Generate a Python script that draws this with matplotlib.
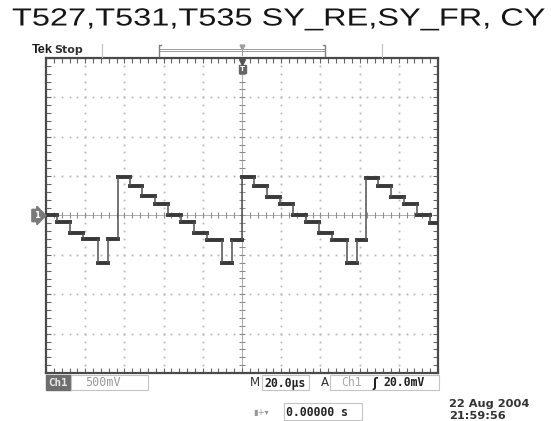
import matplotlib
matplotlib.use('Agg')
import matplotlib.pyplot as plt
import numpy as np
from matplotlib.ticker import MultipleLocator
from matplotlib.patches import Rectangle
from matplotlib.patheffects import AbstractPathEffect
from matplotlib.transforms import Affine2D

# ---------------- data ----------------
title = "T527,T531,T535 SY_RE,SY_FR, CY"

# step edges of the trace (microseconds, trigger at 0) and the level of each step (volts)
edges_us = [-100, -94.2, -87.7, -81.0, -73.3, -68.2,
            -63.1, -57.1, -50.9, -44.4, -37.8, -31.1, -24.5, -18.0, -10.1, -5.3,
            0.0, 6.1, 12.6, 19.4, 26.2, 32.7, 39.3, 45.8, 53.4, 58.5,
            63.5, 69.5, 76.0, 82.8, 89.1, 95.9, 100]
levels_v = [0.0, -0.085, -0.22, -0.30, -0.60, -0.30,
            0.485, 0.37, 0.245, 0.145, 0.005, -0.085, -0.225, -0.31, -0.605, -0.31,
            0.485, 0.375, 0.24, 0.145, 0.0, -0.085, -0.22, -0.31, -0.605, -0.31,
            0.475, 0.37, 0.23, 0.14, 0.0, -0.09]

time_per_div_us = 20.0
volts_per_div = 0.5
n_xdiv, n_ydiv = 10, 8

ch_label = "Ch1"
ch_scale = "500mV"
timebase = "20.0µs"
trig_src = "Ch1"
trig_level = "20.0mV"
hpos = "0.00000 s"
date_str = "22 Aug 2004"
time_str = "21:59:56"


class HStretch(AbstractPathEffect):
    """Stretch text horizontally from its left origin."""
    def __init__(self, sx):
        super().__init__()
        self.sx = sx

    def draw_path(self, renderer, gc, tpath, affine, rgbFace=None):
        renderer.draw_path(gc, tpath, Affine2D().scale(self.sx, 1.0) + affine, rgbFace)


W, H = 551, 421
fig = plt.figure(figsize=(W / 100, H / 100), dpi=100)
fig.patch.set_facecolor('white')

# ---------------- scope screen ----------------
L, R, T, B = 46, 438, 58, 373
ax = fig.add_axes([L / W, (H - B) / H, (R - L) / W, (B - T) / H])
xmax = n_xdiv / 2 * time_per_div_us
ymax = n_ydiv / 2 * volts_per_div
ax.set_xlim(-xmax, xmax)
ax.set_ylim(-ymax, ymax)
ax.set_facecolor('white')

minor_x = np.arange(-xmax, xmax + 1e-9, time_per_div_us / 5)
minor_y = np.arange(-ymax, ymax + 1e-9, volts_per_div / 5)
major_x = np.arange(-xmax + time_per_div_us, xmax - 1e-9, time_per_div_us)
major_y = np.arange(-ymax + volts_per_div, ymax - 1e-9, volts_per_div)

dot_c = '#b8b8b8'
for xv in major_x:
    if abs(xv) < 1e-9:
        continue
    ax.plot(np.full_like(minor_y, xv), minor_y, ls='none', marker='s', ms=1.3,
            color=dot_c, mec='none', zorder=1)
for yv in major_y:
    if abs(yv) < 1e-9:
        continue
    ax.plot(minor_x, np.full_like(minor_x, yv), ls='none', marker='s', ms=1.3,
            color=dot_c, mec='none', zorder=1)

# center cross with graduations
ax.axhline(0, color='#b0b0b0', lw=0.7, zorder=1)
ax.axvline(0, color='#b0b0b0', lw=0.7, zorder=1)
ax.plot(minor_x, np.zeros_like(minor_x), ls='none', marker='|', ms=5, mew=0.8,
        color='#8c8c8c', zorder=1)
ax.plot(np.zeros_like(minor_y), minor_y, ls='none', marker='_', ms=5, mew=0.8,
        color='#8c8c8c', zorder=1)

# border graduations
ax.xaxis.set_major_locator(MultipleLocator(time_per_div_us))
ax.xaxis.set_minor_locator(MultipleLocator(time_per_div_us / 5))
ax.yaxis.set_major_locator(MultipleLocator(volts_per_div))
ax.yaxis.set_minor_locator(MultipleLocator(volts_per_div / 5))
ax.tick_params(which='both', direction='in', top=True, right=True, bottom=True, left=True,
               labelbottom=False, labelleft=False, length=3.5, width=0.8, color='#666')
for s in ax.spines.values():
    s.set_color('#4a4a4a')
    s.set_linewidth(1.6)

# trace
ax.hlines(levels_v, edges_us[:-1], edges_us[1:], color='#383838', lw=2.8,
          capstyle='projecting', zorder=3)
ax.vlines(edges_us[1:-1], levels_v[:-1], levels_v[1:], color='#505050', lw=1.1, zorder=3)

# ---------------- overlay (pixel coordinates) ----------------
ov = fig.add_axes([0, 0, 1, 1])
ov.set_xlim(0, W)
ov.set_ylim(H, 0)
ov.axis('off')

t = ov.text(12, 25.5, title, fontsize=17.8, family='Liberation Sans', ha='left',
            va='baseline', color='#151515')
fig.canvas.draw()
w = t.get_window_extent(fig.canvas.get_renderer()).width
t.set_path_effects([HStretch(533.0 / w)])

ov.text(32, 53, "Tek", fontsize=9.2, family='Liberation Sans', weight='bold',
        color='#1a1a1a', va='baseline')
ov.text(54.5, 53, "Stop", fontsize=8.0, family='DejaVu Sans', weight='bold',
        color='#333', va='baseline')

# top record bar
for xv in (101.7, 382):
    ov.plot([xv, xv], [44, 57], color='#c0c0c0', lw=0.8)
ov.add_patch(Rectangle((159, 48.5), 166, 2.8, fill=False, ec='#9a9a9a', lw=0.7))
ov.plot([161, 159, 159], [44.5, 44.5, 56], color='#808080', lw=1.0)
ov.plot([323, 325, 325], [44.5, 44.5, 56], color='#808080', lw=1.0)
ov.plot([242, 242], [46, 55], color='#a0a0a0', lw=0.8)
ov.plot([242], [46.5], marker='v', ms=3.5, color='#a0a0a0')

# trigger position marker
ov.plot([242], [61.5], marker='v', ms=4.5, color='#555')
ov.add_patch(Rectangle((238.5, 64.5), 7, 8, fc='#666', ec='#666'))
ov.text(242, 68.7, "T", fontsize=5, color='white', weight='bold', ha='center', va='center')

# channel ground marker
ov.text(36.5, 215.5, "1", fontsize=6, color='white', weight='bold', ha='center', va='center',
        bbox=dict(boxstyle='rarrow,pad=0.2', fc='#7a7a7a', ec='#7a7a7a'))

mono = 'DejaVu Sans Mono'
box_ec = '#c4c4c4'
yb, hb = 375, 15
ty = yb + hb / 2 + 0.5
ov.add_patch(Rectangle((46, yb), 24.5, hb, fc='#6e6e6e', ec='#6e6e6e'))
ov.text(58.3, ty, ch_label, fontsize=7.8, family=mono, weight='bold', color='#e8e8e8',
        ha='center', va='center')
ov.add_patch(Rectangle((70.5, yb), 77, hb, fc='white', ec=box_ec, lw=0.8))
ov.text(85, ty, ch_scale, fontsize=8.5, family=mono, color='#9a9a9a', ha='left', va='center')

ov.text(250, ty, "M", fontsize=8.5, family='DejaVu Sans', color='#333', ha='left', va='center')
ov.add_patch(Rectangle((262, yb), 47, hb, fc='white', ec=box_ec, lw=0.8))
ov.text(264.5, ty, timebase, fontsize=8.3, family=mono, weight='bold', color='#222',
        ha='left', va='center')

ov.text(321, ty, "A", fontsize=8.5, family='DejaVu Sans', color='#333', ha='left', va='center')
ov.add_patch(Rectangle((330, yb), 108.5, hb, fc='white', ec=box_ec, lw=0.8))
ov.text(341, ty, trig_src, fontsize=8.3, family=mono, color='#aaaaaa', ha='left', va='center')
ov.text(372, ty, "ʃ", fontsize=8.5, family='DejaVu Sans', weight='bold', color='#222',
        ha='left', va='center')
ov.text(383, ty, trig_level, fontsize=8.3, family=mono, weight='bold', color='#222',
        ha='left', va='center')

ov.text(253, 412, "▮+▾", fontsize=6, family='DejaVu Sans', color='#999', ha='left', va='center')
ov.add_patch(Rectangle((284, 403), 78, 17, fc='white', ec=box_ec, lw=0.8))
ov.text(286.5, 412, hpos, fontsize=8.3, family=mono, weight='bold', color='#222',
        ha='left', va='center')

ov.text(449, 404, date_str, fontsize=8.2, family='DejaVu Sans', weight='bold', color='#333',
        ha='left', va='center')
ov.text(449, 416, time_str, fontsize=8.2, family='DejaVu Sans', weight='bold', color='#333',
        ha='left', va='center')

fig.savefig('out.png', dpi=100, facecolor='white')
